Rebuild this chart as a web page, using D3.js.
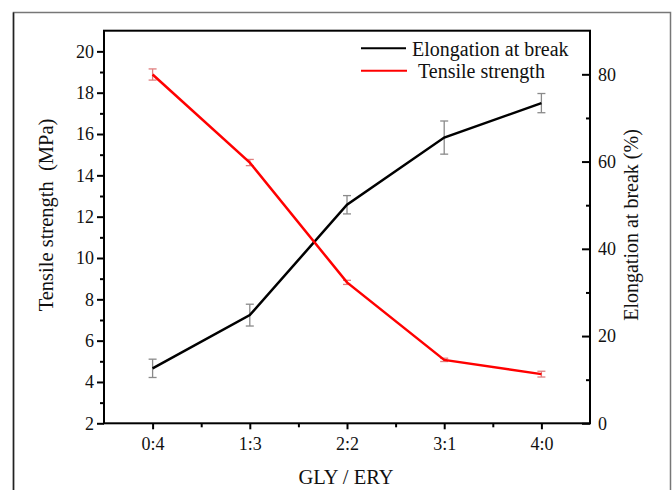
<!DOCTYPE html>
<html>
<head>
<meta charset="utf-8">
<script src="https://cdn.jsdelivr.net/npm/d3@7"></script>
<style>
  html, body { margin: 0; padding: 0; background: #fff; }
  svg { display: block; }
  text { font-family: 'Liberation Serif', 'Times New Roman', serif; }
</style>
</head>
<body>
<svg id="chart" width="672" height="490"></svg>
<script>
// ---- data ----
const categories = ["0:4", "1:3", "2:2", "3:1", "4:0"];
const tensileStrength = [18.88, 14.62, 8.82, 5.07, 4.38];      // MPa (left axis)
const tensileError = [0.27, 0.15, 0.1, 0.08, 0.14];
const elongation = [12.6, 24.8, 50.1, 65.5, 73.4];             // % (right axis)
const elongationError = [2.1, 2.5, 2.1, 3.8, 2.2];
const leftTicks = [2, 4, 6, 8, 10, 12, 14, 16, 18, 20];
const leftMinorTicks = [3, 5, 7, 9, 11, 13, 15, 17, 19];
const rightTicks = [0, 20, 40, 60, 80];
const rightMinorTicks = [10, 30, 50, 70];
const seriesNames = ["Elongation at break", "Tensile strength"];

// ---- layout ----
const svg = d3.select("#chart");
const L = 104, R = 590, T = 30.7, B = 423.3;
const FONT = "'Liberation Serif', 'Times New Roman', serif";

// outer frame
svg.append("rect").attr("x", 13.5).attr("y", 12.5).attr("width", 657).attr("height", 490)
  .attr("fill", "#fff").attr("stroke", "#777").attr("stroke-width", 1.5);
svg.append("line").attr("x1", 13.5).attr("x2", 13.5).attr("y1", 12.5).attr("y2", 490)
  .attr("stroke", "#222").attr("stroke-width", 1.5);

const x = d3.scaleLinear().domain([-0.5, 4.5]).range([L, R]);
const yL = d3.scaleLinear().domain([2, 21]).range([B, T]);
const yR = d3.scaleLinear().domain([0, 90]).range([B, T]);

function styleAxis(g) {
  g.attr("font-family", null).attr("font-size", null);
  g.select(".domain").remove();
  g.selectAll(".tick line").attr("stroke", "#000").attr("stroke-width", 2);
  g.selectAll(".tick text").style("font-family", FONT).style("font-size", "18px").attr("fill", "#111");
}

// left axis
svg.append("g").attr("transform", `translate(${L},0)`)
  .call(d3.axisLeft(yL).tickValues(leftTicks).tickSize(7).tickPadding(3).tickFormat(d3.format("d")))
  .call(styleAxis);
svg.append("g").attr("transform", `translate(${L},0)`)
  .call(d3.axisLeft(yL).tickValues(leftMinorTicks).tickSize(4).tickFormat(""))
  .call(styleAxis);

// right axis (ticks inward)
svg.append("g").attr("transform", `translate(${R},0)`)
  .call(d3.axisRight(yR).tickValues(rightTicks).tickSize(-8).tickPadding(8).tickFormat(d3.format("d")))
  .call(styleAxis);
svg.append("g").attr("transform", `translate(${R},0)`)
  .call(d3.axisRight(yR).tickValues(rightMinorTicks).tickSize(-4).tickFormat(""))
  .call(styleAxis);

// bottom axis
svg.append("g").attr("transform", `translate(0,${B})`)
  .call(d3.axisBottom(x).tickValues(d3.range(categories.length)).tickSize(6).tickPadding(8)
    .tickFormat(i => categories[i]))
  .call(styleAxis);
svg.append("g").attr("transform", `translate(0,${B})`)
  .call(d3.axisBottom(x).tickValues(d3.range(categories.length - 1).map(i => i + 0.5)).tickSize(4).tickFormat(""))
  .call(styleAxis);

// frame lines of the plot
svg.append("rect").attr("x", L).attr("y", T).attr("width", R - L).attr("height", B - T)
  .attr("fill", "none").attr("stroke", "#000").attr("stroke-width", 2);

// error bars
function errorBars(vals, errs, scale, color) {
  const g = svg.append("g").attr("stroke", color).attr("stroke-width", 1.3).attr("fill", "none");
  vals.forEach((v, i) => {
    const cx = x(i), y1 = scale(v - errs[i]), y2 = scale(v + errs[i]);
    g.append("line").attr("x1", cx).attr("x2", cx).attr("y1", y1).attr("y2", y2);
    g.append("line").attr("x1", cx - 4).attr("x2", cx + 4).attr("y1", y1).attr("y2", y1);
    g.append("line").attr("x1", cx - 4).attr("x2", cx + 4).attr("y1", y2).attr("y2", y2);
  });
}
errorBars(elongation, elongationError, yR, "#8a8a8a");
errorBars(tensileStrength, tensileError, yL, "#e07f7f");

// lines
svg.append("path").datum(elongation)
  .attr("d", d3.line().x((d, i) => x(i)).y(d => yR(d)))
  .attr("fill", "none").attr("stroke", "#000").attr("stroke-width", 2.5);
svg.append("path").datum(tensileStrength)
  .attr("d", d3.line().x((d, i) => x(i)).y(d => yL(d)))
  .attr("fill", "none").attr("stroke", "#f00").attr("stroke-width", 2.5);

// legend
const leg = svg.append("g");
leg.append("line").attr("x1", 361).attr("x2", 406).attr("y1", 48.3).attr("y2", 48.3)
  .attr("stroke", "#000").attr("stroke-width", 2);
leg.append("text").attr("x", 412).attr("y", 55.5).text(seriesNames[0])
  .style("font-size", "20px").attr("fill", "#111");
leg.append("line").attr("x1", 361).attr("x2", 407).attr("y1", 70.7).attr("y2", 70.7)
  .attr("stroke", "#f00").attr("stroke-width", 2);
leg.append("text").attr("x", 418).attr("y", 78).text(seriesNames[1])
  .style("font-size", "20px").attr("fill", "#111");

// axis titles
svg.append("text").attr("transform", "translate(53,215) rotate(-90)")
  .attr("text-anchor", "middle").style("font-size", "20.5px").attr("fill", "#111")
  .style("white-space", "pre").text("Tensile strength  (MPa)");
svg.append("text").attr("transform", "translate(638,225) rotate(-90)")
  .attr("text-anchor", "middle").style("font-size", "20px").attr("fill", "#111")
  .text("Elongation at break (%)");
svg.append("text").attr("x", 346).attr("y", 484)
  .attr("text-anchor", "middle").style("font-size", "20.5px").attr("fill", "#111")
  .text("GLY / ERY");
</script>
</body>
</html>
